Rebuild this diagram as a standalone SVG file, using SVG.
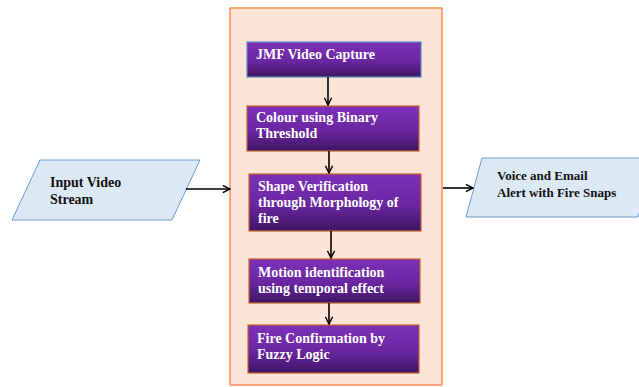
<svg xmlns="http://www.w3.org/2000/svg" width="639" height="387" viewBox="0 0 639 387">
<defs>
<linearGradient id="pg" x1="0" y1="0" x2="0" y2="1">
<stop offset="0" stop-color="#7d30b8"/>
<stop offset="0.55" stop-color="#6a26a0"/>
<stop offset="1" stop-color="#3f1466"/>
</linearGradient>
<marker id="ah" viewBox="0 0 10 10" refX="9" refY="5" markerWidth="9" markerHeight="9" markerUnits="userSpaceOnUse" orient="auto">
<path d="M1,1 L9,5 L1,9" fill="none" stroke="#000" stroke-width="1.6"/>
</marker>
</defs>
<style>
.box{fill:url(#pg);stroke:#c5642a;stroke-width:1.2}
.wt{font-family:"Liberation Serif","Times New Roman",serif;font-weight:bold;font-size:14px;fill:#ffffff}
.bt{font-family:"Liberation Serif","Times New Roman",serif;font-weight:bold;font-size:13px;fill:#111111}
.para{fill:#dde8f5;stroke:#6d9ccf;stroke-width:1}
.con{stroke:#000;stroke-width:1.6;fill:none;marker-end:url(#ah)}
</style>
<rect width="639" height="387" fill="#ffffff"/>
<rect id="container" x="230" y="8" width="212" height="377" fill="#fbe4d5" stroke="#ed7d31" stroke-width="1.2"/>
<g id="input">
<polygon class="para" points="40,160 200,160 172,220 12,220"/>
<text class="bt" x="50" y="187" style="font-size:14px">Input Video</text>
<text class="bt" x="50" y="204" style="font-size:14px">Stream</text>
</g>
<g id="output">
<polygon class="para" points="482,158 656,158 638,217 466,217"/>
<text class="bt" x="497" y="180">Voice and Email</text>
<text class="bt" x="497" y="197">Alert with Fire Snaps</text>
</g>
<g id="jmf">
<rect class="box" x="247" y="42" width="174" height="35" style="stroke:#5b8fc7"/>
<text class="wt" x="256" y="59">JMF Video Capture</text>
</g>
<g id="colour">
<rect class="box" x="247" y="106" width="172" height="45"/>
<text class="wt" x="256" y="122">Colour using Binary</text>
<text class="wt" x="256" y="138">Threshold</text>
</g>
<g id="shape">
<rect class="box" x="249" y="174" width="172" height="57"/>
<text class="wt" x="258" y="191">Shape Verification</text>
<text class="wt" x="258" y="207">through Morphology of</text>
<text class="wt" x="258" y="223">fire</text>
</g>
<g id="motion">
<rect class="box" x="249" y="259" width="171" height="44"/>
<text class="wt" x="258" y="277">Motion identification</text>
<text class="wt" x="258" y="293">using temporal effect</text>
</g>
<g id="fire">
<rect class="box" x="248" y="325" width="171" height="48"/>
<text class="wt" x="257" y="343">Fire Confirmation by</text>
<text class="wt" x="257" y="359">Fuzzy Logic</text>
</g>
<g id="connectors">
<line class="con" x1="328" y1="77" x2="328" y2="105"/>
<line class="con" x1="329" y1="151" x2="329" y2="173"/>
<line class="con" x1="331" y1="231" x2="331" y2="258"/>
<line class="con" x1="329" y1="303" x2="329" y2="324"/>
<line class="con" x1="186" y1="189" x2="230" y2="189"/>
<line class="con" x1="443" y1="188" x2="473" y2="188"/>
</g>
</svg>
